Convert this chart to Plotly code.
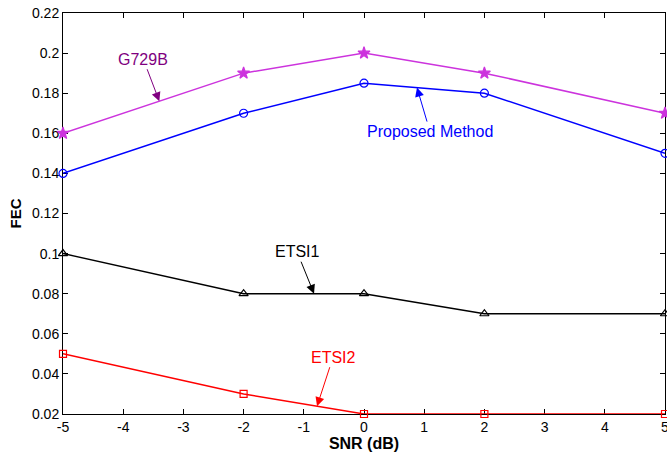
import plotly.graph_objects as go

# SNR operating points (dB)
snr = [-5, -2, 0, 2, 5]

# FEC measured for each method
fec_g729b = [0.16, 0.19, 0.20, 0.19, 0.17]
fec_proposed = [0.14, 0.17, 0.185, 0.18, 0.15]
fec_etsi1 = [0.10, 0.08, 0.08, 0.07, 0.07]
fec_etsi2 = [0.05, 0.03, 0.02, 0.02, 0.02]

x_ticks = [-5, -4, -3, -2, -1, 0, 1, 2, 3, 4, 5]
x_tick_text = ["-5", "-4", "-3", "-2", "-1", "0", "1", "2", "3", "4", "5"]
y_ticks = [0.02, 0.04, 0.06, 0.08, 0.10, 0.12, 0.14, 0.16, 0.18, 0.20, 0.22]
y_tick_text = ["0.02", "0.04", "0.06", "0.08", "0.1", "0.12", "0.14",
               "0.16", "0.18", "0.2", "0.22"]

FONT = "Liberation Sans, Arial, sans-serif"

series = [
    ("G729B", fec_g729b, "#cc33dd", "star", 9),
    ("Proposed Method", fec_proposed, "#0000ff", "circle-open", 8),
    ("ETSI1", fec_etsi1, "#000000", "triangle-up-open", 8),
    ("ETSI2", fec_etsi2, "#ff0000", "square-open", 7),
]

fig = go.Figure()
for name, vals, color, symbol, size in series:
    fig.add_trace(go.Scatter(
        x=snr, y=vals, name=name, mode="lines+markers",
        line=dict(color=color, width=1.5),
        marker=dict(symbol=symbol, size=size, color=color,
                    line=dict(color=color, width=1.2)),
        cliponaxis=False,
    ))

# Labels with arrows pointing onto each curve: (text, x, y, dx, dy, colour)
labels = [
    ("G729B", -3.40, 0.176, -16, -42, "#800080"),
    ("Proposed Method", 0.88, 0.1828, 13, 44, "#0000ff"),
    ("ETSI1", -0.83, 0.08, -17, -42, "#000000"),
    ("ETSI2", -0.78, 0.0239, 16, -49, "#ff0000"),
]
for text, xa, ya, dx, dy, color in labels:
    fig.add_annotation(
        x=xa, y=ya, text=text, ax=dx, ay=dy,
        showarrow=True, arrowhead=2, arrowsize=1.8, arrowwidth=1,
        arrowcolor=color, font=dict(family=FONT, size=16, color=color),
        standoff=0, startstandoff=0,
    )

axis_common = dict(
    showline=True, linecolor="black", linewidth=1, mirror="ticks",
    ticks="inside", ticklen=5, tickcolor="black", tickwidth=1,
    showgrid=False, zeroline=False, automargin=False,
    tickfont=dict(family=FONT, size=14, color="black"),
    layer="below traces",
)

fig.update_xaxes(
    range=[-5, 5], tickvals=x_ticks, ticktext=x_tick_text,
    ticklabeloverflow="allow",
    title=dict(text="<b>SNR (dB)</b>", font=dict(family=FONT, size=16, color="black"),
               standoff=2),
    **axis_common,
)
fig.update_yaxes(
    range=[0.02, 0.22], tickvals=y_ticks, ticktext=y_tick_text,
    title=dict(text="<b>FEC</b>", font=dict(family=FONT, size=15, color="black"),
               standoff=6),
    **axis_common,
)

fig.update_layout(
    width=667, height=455,
    margin=dict(l=63, r=2, t=13, b=41),
    paper_bgcolor="white", plot_bgcolor="white",
    showlegend=False,
)

fig.write_html("out.html")
